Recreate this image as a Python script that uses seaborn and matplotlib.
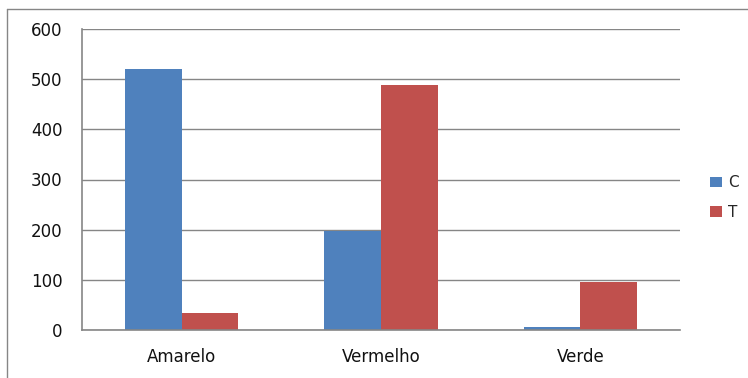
import pandas as pd
import matplotlib.pyplot as plt
import seaborn as sns
from matplotlib.lines import Line2D

categories = ['Amarelo', 'Vermelho', 'Verde']
serie_c = [520, 197, 5]
serie_t = [33, 489, 95]
series = ['C', 'T']

df = pd.DataFrame({
    'categoria': categories * 2,
    'serie': ['C'] * 3 + ['T'] * 3,
    'valor': serie_c + serie_t,
})

sns.set_style('white')
plt.rcParams['font.family'] = ['DejaVu Sans']

grey = '#868686'
fig = plt.figure(figsize=(7.48, 3.78), dpi=100)
ax = fig.add_axes([82 / 748, 48 / 378, 598 / 748, 301 / 378])

sns.barplot(data=df, x='categoria', y='valor', hue='serie', order=categories,
            hue_order=series, palette=['#4f81bd', '#c0504d'], width=0.57,
            saturation=1, linewidth=0, ax=ax, legend=True)

ax.set_ylim(0, 600)
ax.set_xlim(-0.5, 2.5)
ax.set_yticks(range(0, 601, 100))
ax.yaxis.grid(True, color=grey, linewidth=1)
ax.set_axisbelow(True)
ax.set_xlabel('')
ax.set_ylabel('')
for s in ['top', 'right']:
    ax.spines[s].set_visible(False)
for s in ['left', 'bottom']:
    ax.spines[s].set_color(grey)
    ax.spines[s].set_linewidth(1.2)

ax.tick_params(axis='y', length=6, color=grey, width=1, labelsize=12, pad=8,
               labelcolor='#111111')
ax.tick_params(axis='x', length=0, labelsize=12, pad=13, labelcolor='#111111')
ax.set_xticks([-0.5, 0.5, 1.5, 2.5], minor=True)
ax.tick_params(axis='x', which='minor', length=5, color=grey, width=1)

ax.legend(loc='center left', bbox_to_anchor=(1.028, 0.44), frameon=False,
          fontsize=11, handlelength=0.75, handleheight=0.7, handletextpad=0.4,
          labelspacing=0.95)

# moldura externa (so topo e lado esquerdo visiveis)
fig.add_artist(Line2D([7 / 748, 1], [1 - 9 / 378, 1 - 9 / 378],
                      transform=fig.transFigure, color=grey, linewidth=1))
fig.add_artist(Line2D([7 / 748, 7 / 748], [0, 1 - 9 / 378],
                      transform=fig.transFigure, color=grey, linewidth=1))

plt.savefig('out.png', dpi=100)
